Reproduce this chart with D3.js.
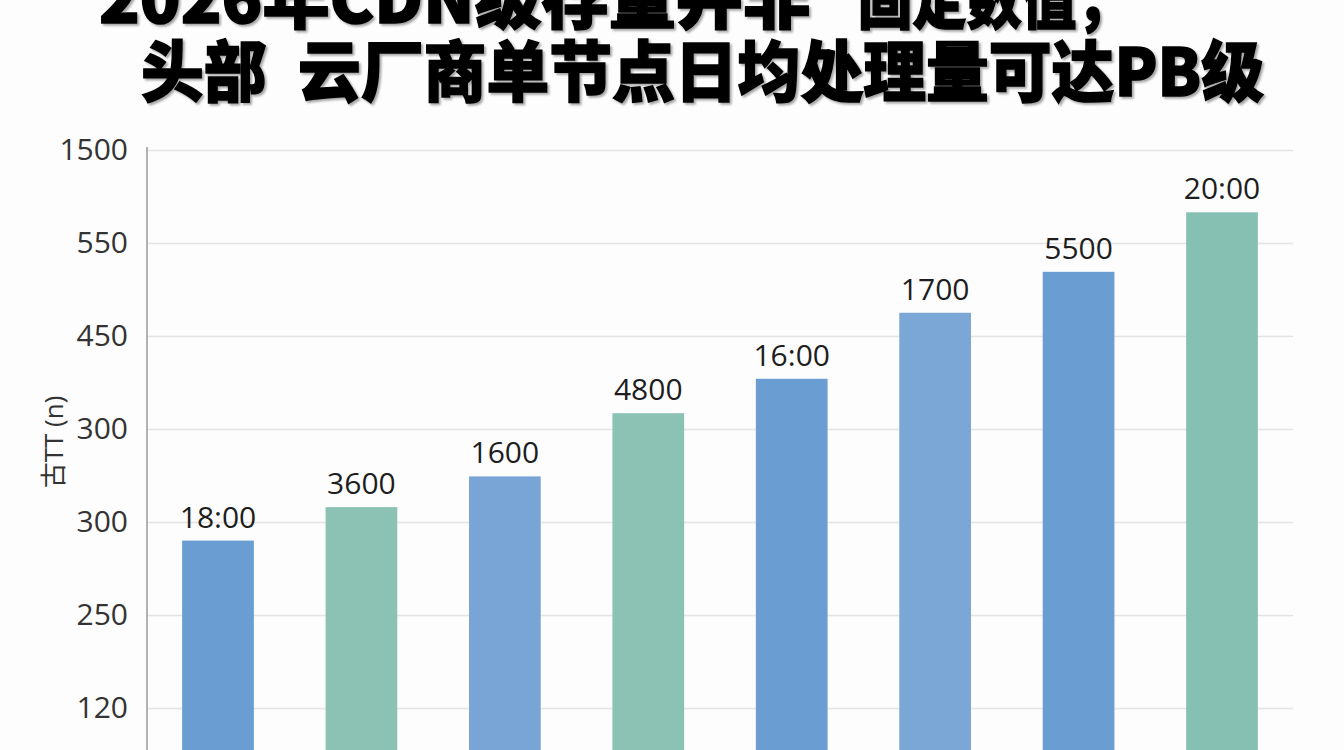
<!DOCTYPE html>
<html>
<head>
<meta charset="utf-8">
<script src="https://cdn.jsdelivr.net/npm/d3@7"></script>
<style>
  body { margin: 0; background: #fdfdfd; }
  svg { display: block; }
</style>
</head>
<body>
<div id="chart"></div>
<script>
// Chart data (tick slots are evenly spaced, labels as printed on the picture)
const tickLabels = ["120", "250", "300", "300", "450", "550", "1500"];
const categories = ["c1", "c2", "c3", "c4", "c5", "c6", "c7", "c8"];
const barValues = [1.80, 2.16, 2.49, 3.17, 3.54, 4.25, 4.69, 5.33]; // in tick slots
const barLabels = ["18:00", "3600", "1600", "4800", "16:00", "1700", "5500", "20:00"];
const barColors = ["#6a9dd2", "#8bc2b4", "#78a5d5", "#8bc2b4", "#6a9dd2", "#7ba7d6", "#6a9dd2", "#86c0b3"];
const titleParts = ["2026年CDN级存量并非", "“固定数值，", "头部\u2002云厂商单节点日均处理量可达PB级"];
const yTitle = "古TT (n)";

const width = 1344, height = 750;
const left = 147, right = 1293;

const svg = d3.select("#chart")
  .append("svg")
  .attr("width", width)
  .attr("height", height);

// soft shadow behind the title
const filter = svg.append("defs").append("filter")
  .attr("id", "shadow")
  .attr("x", "-5%").attr("y", "-20%")
  .attr("width", "110%").attr("height", "150%");
filter.append("feDropShadow")
  .attr("dx", 2).attr("dy", 2)
  .attr("stdDeviation", 1.2)
  .attr("flood-color", "#000")
  .attr("flood-opacity", 0.35);

// Scales
const x = d3.scaleBand()
  .domain(categories)
  .range([left, right])
  .paddingInner(0.5)
  .paddingOuter(0.245);

const y = d3.scaleLinear()
  .domain([0, 6])
  .range([708, 150]);

// Grid lines
svg.append("g")
  .attr("transform", "translate(" + left + ",0)")
  .call(d3.axisLeft(y).tickValues(d3.range(tickLabels.length)).tickSize(-(right - left)).tickFormat(""))
  .call(g => g.select(".domain").remove())
  .selectAll("line")
  .attr("stroke", "#e4e4e4")
  .attr("stroke-width", 1.5);

// Bars
svg.append("g")
  .selectAll("rect")
  .data(categories)
  .join("rect")
  .attr("x", d => x(d))
  .attr("width", x.bandwidth())
  .attr("y", (d, i) => y(barValues[i]))
  .attr("height", (d, i) => y(-0.8) - y(barValues[i]))
  .attr("fill", (d, i) => barColors[i]);

// Value labels
svg.append("g")
  .selectAll("text")
  .data(categories)
  .join("text")
  .attr("x", d => x(d) + x.bandwidth() / 2)
  .attr("y", (d, i) => y(barValues[i]) - 13)
  .attr("text-anchor", "middle")
  .style("font-family", "'Open Sans', 'Noto Sans', sans-serif")
  .style("font-size", "30px")
  .style("fill", "#1e1e1e")
  .text((d, i) => barLabels[i]);

// Y axis
const yAxis = svg.append("g")
  .attr("transform", "translate(" + left + ",0)")
  .call(d3.axisLeft(y).tickValues(d3.range(tickLabels.length)).tickSize(0).tickPadding(19)
    .tickFormat(i => tickLabels[i]));
yAxis.select(".domain").remove();
yAxis.selectAll("text")
  .style("font-family", "'Open Sans', 'Noto Sans', sans-serif")
  .style("font-size", "30px")
  .style("fill", "#333");

svg.append("line")
  .attr("x1", left).attr("x2", left)
  .attr("y1", 147).attr("y2", height)
  .attr("stroke", "#9a9a9a")
  .attr("stroke-width", 1.5);

// Y title
svg.append("text")
  .attr("transform", "translate(63,442) rotate(-90)")
  .attr("text-anchor", "middle")
  .style("font-family", "'Open Sans', 'Noto Sans CJK SC', sans-serif")
  .style("font-size", "26px")
  .style("fill", "#333")
  .text(yTitle);

// Title (first line is cut off by the top edge)
const titlePos = [
  { x: 99, y: 23, w: 711 },
  { x: 803, y: 23, w: 328 },
  { x: 141, y: 96, w: 1123 }
];
titleParts.forEach((t, i) => {
  const p = titlePos[i];
  svg.append("text")
    .attr("x", p.x)
    .attr("y", p.y)
    .attr("textLength", p.w)
    .attr("lengthAdjust", "spacingAndGlyphs")
    .attr("filter", "url(#shadow)")
    .style("font-family", "'Noto Sans CJK SC', sans-serif")
    .style("font-weight", 900)
    .style("font-size", "66px")
    .style("fill", "#000")
    .style("stroke", "#000")
    .style("stroke-width", 1.5)
    .text(t);
});
</script>
</body>
</html>
